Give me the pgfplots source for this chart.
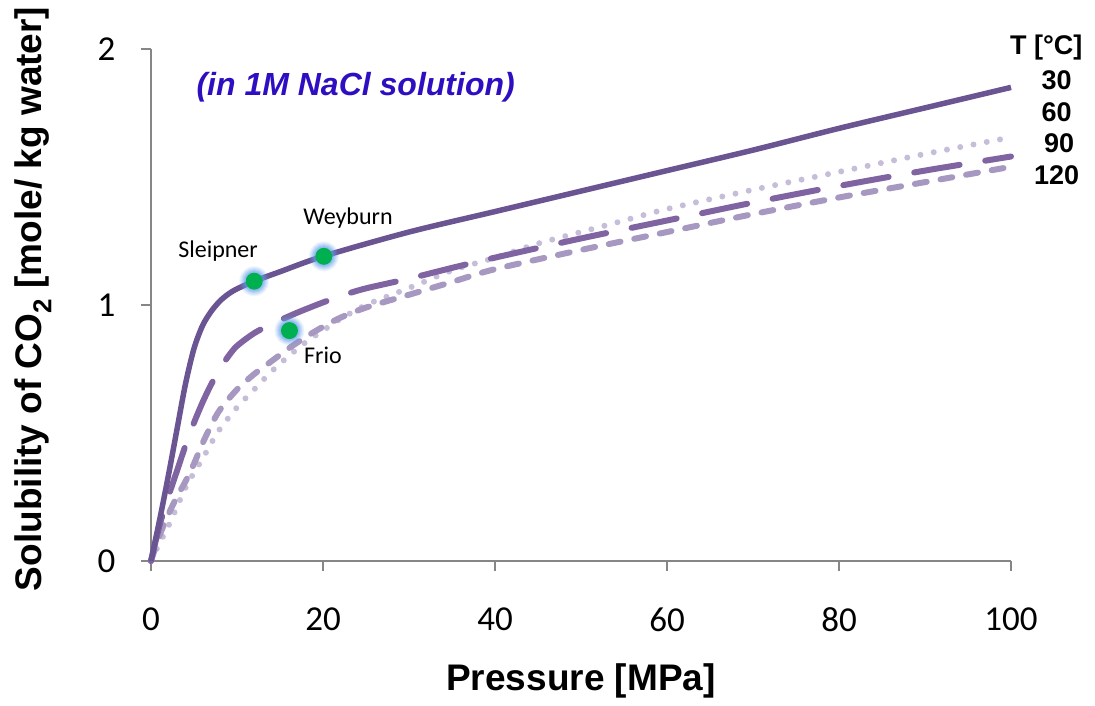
\documentclass[border=0pt]{standalone}
\usepackage{fontspec}
\setmainfont{Carlito}
\newfontfamily\arial{Liberation Sans}
\usepackage{pgfplots}
\pgfplotsset{compat=1.18}
\definecolor{c30}{RGB}{106,84,146}
\definecolor{c60}{RGB}{128,100,162}
\definecolor{c90}{RGB}{198,189,217}
\definecolor{c120}{RGB}{166,152,192}
\definecolor{ptgreen}{RGB}{0,176,80}
\definecolor{glow}{RGB}{100,160,235}
\definecolor{axgray}{RGB}{134,134,134}
\definecolor{bluelab}{RGB}{46,14,192}
\begin{document}
\begin{tikzpicture}
\useasboundingbox (-151pt,-145pt) rectangle (944pt,561pt);
\begin{axis}[
  scale only axis, width=860pt, height=512pt,
  xmin=0, xmax=100, ymin=0, ymax=2,
  xtick={0,20,...,100}, ytick={0,1,2},
  axis x line=bottom, axis y line=left,
  axis line style={-, draw=axgray, line width=2pt},
  tick style={draw=axgray, line width=2pt},
  tick align=outside, major tick length=10pt,
  /pgf/number format/assume math mode=true,
  every tick label/.append style={font=\fontsize{35}{42}\selectfont},
  xticklabel style={yshift=-33pt},
  yticklabel style={xshift=-22pt},
  xlabel={\arial\bfseries Pressure [MPa]},
  xlabel style={at={(axis description cs:0.5,-0.234)}, anchor=center, font=\fontsize{37}{44}\selectfont},
  ylabel={\arial\bfseries Solubility of CO\textsubscript{2} [mole/ kg water]},
  ylabel style={at={(axis description cs:-0.137,0.512)}, anchor=center, rotate=0, font=\fontsize{37}{44}\selectfont},
  clip=false,
]
% 90 C dotted
\addplot[c90, line width=6pt, line cap=round, dash pattern=on 0pt off 13.5pt, smooth] coordinates {
(0,0) (1,0.07) (2,0.135) (3,0.21) (4,0.285) (5,0.345) (6,0.40) (7,0.46) (8,0.515) (10,0.60) (12,0.67) (14,0.74) (16,0.80) (18,0.855) (20,0.90) (22,0.945) (25,1.0) (28,1.04) (31,1.08) (35,1.135) (40,1.185) (45,1.24) (50,1.285) (55,1.33) (60,1.375) (70,1.45) (80,1.52) (90,1.59) (100,1.655)};
% 120 C short dash
\addplot[c120, line width=6pt, line cap=round, dash pattern=on 12pt off 14pt, smooth] coordinates {
(0,0) (1,0.10) (2,0.18) (3,0.25) (4,0.31) (5,0.38) (6,0.46) (7,0.53) (8,0.59) (10,0.67) (12,0.73) (14,0.78) (16,0.83) (18,0.875) (20,0.915) (22,0.95) (25,0.99) (30,1.04) (35,1.09) (40,1.14) (50,1.215) (60,1.285) (70,1.355) (80,1.42) (90,1.48) (100,1.54)};
% 60 C long dash
\addplot[c60, line width=6pt, line cap=round, dash pattern=on 46pt off 26pt, smooth] coordinates {
(0,0) (1,0.14) (2,0.25) (3,0.35) (4,0.45) (5,0.54) (6,0.62) (7,0.69) (8,0.75) (9,0.80) (10,0.84) (12,0.89) (14,0.925) (17,0.97) (20,1.01) (22.5,1.04) (25,1.065) (30,1.103) (35,1.145) (40,1.185) (50,1.26) (60,1.33) (70,1.40) (80,1.465) (90,1.525) (100,1.58)};
% 30 C solid
\addplot[c30, line width=5.5pt, smooth] coordinates {
(0,0) (1,0.16) (2,0.33) (3,0.51) (4,0.69) (5,0.83) (6,0.92) (7,0.975) (8,1.015) (9,1.043) (10,1.063) (12,1.093) (15,1.13) (20,1.19) (30,1.285) (40,1.365) (50,1.445) (60,1.525) (70,1.605) (80,1.69) (90,1.77) (100,1.85)};
% glow
\addplot[glow, only marks, mark=*, mark size=15pt, mark options={draw opacity=0, fill=glow, fill opacity=0.10}] coordinates {(12,1.093) (20.1,1.19) (16.1,0.90)};
\addplot[glow, only marks, mark=*, mark size=14pt, mark options={draw opacity=0, fill=glow, fill opacity=0.12}] coordinates {(12,1.093) (20.1,1.19) (16.1,0.90)};
\addplot[glow, only marks, mark=*, mark size=13pt, mark options={draw opacity=0, fill=glow, fill opacity=0.15}] coordinates {(12,1.093) (20.1,1.19) (16.1,0.90)};
\addplot[glow, only marks, mark=*, mark size=12pt, mark options={draw opacity=0, fill=glow, fill opacity=0.18}] coordinates {(12,1.093) (20.1,1.19) (16.1,0.90)};
\addplot[glow, only marks, mark=*, mark size=11pt, mark options={draw opacity=0, fill=glow, fill opacity=0.22}] coordinates {(12,1.093) (20.1,1.19) (16.1,0.90)};
\addplot[glow, only marks, mark=*, mark size=10pt, mark options={draw opacity=0, fill=glow, fill opacity=0.28}] coordinates {(12,1.093) (20.1,1.19) (16.1,0.90)};
% points
\addplot[ptgreen, only marks, mark=*, mark size=8.5pt, mark options={draw opacity=0, fill=ptgreen}] coordinates {(12,1.093) (20.1,1.19) (16.1,0.90)};
\node[font=\fontsize{24}{28}\selectfont] at (axis cs:7.8,1.211) {Sleipner};
\node[font=\fontsize{24}{28}\selectfont] at (axis cs:22.9,1.34) {Weyburn};
\node[font=\fontsize{24}{28}\selectfont] at (axis cs:20.0,0.805) {Frio};
\node[font=\fontsize{32}{38}\selectfont\arial\bfseries\itshape, text=bluelab] at (axis cs:23.8,1.85) {(in 1M NaCl solution)};
\node[font=\fontsize{27}{32}\selectfont\arial\bfseries] at (axis cs:104.1,2.004) {T [°C]};
\node[font=\fontsize{27}{32}\selectfont\arial\bfseries] at (axis cs:105.3,1.879) {30};
\node[font=\fontsize{27}{32}\selectfont\arial\bfseries] at (axis cs:105.3,1.754) {60};
\node[font=\fontsize{27}{32}\selectfont\arial\bfseries] at (axis cs:105.6,1.633) {90};
\node[font=\fontsize{27}{32}\selectfont\arial\bfseries] at (axis cs:105.3,1.508) {120};
\end{axis}
\end{tikzpicture}
\end{document}
